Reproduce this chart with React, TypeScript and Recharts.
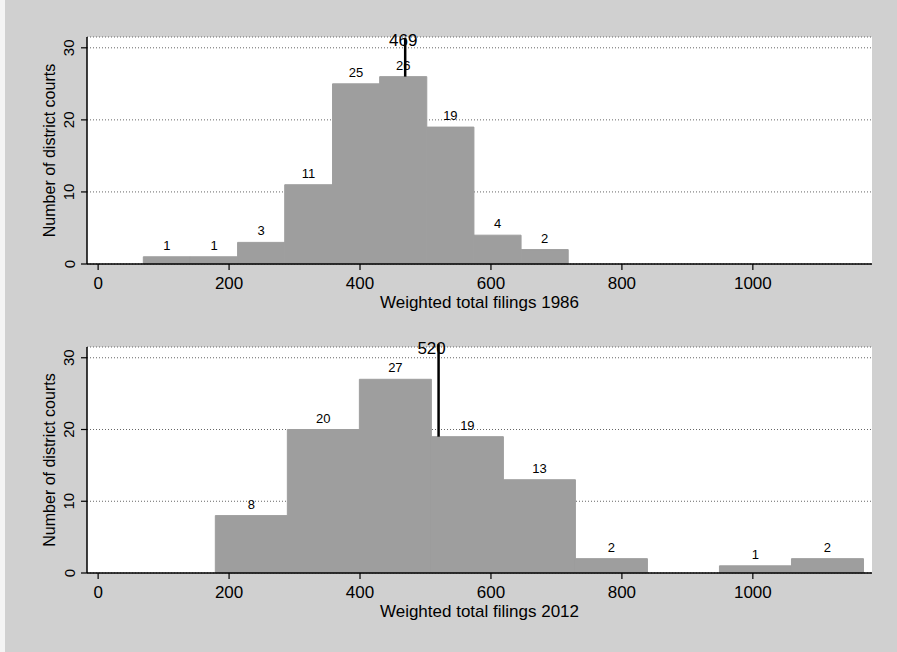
import React from 'react';
import {
  ComposedChart,
  XAxis,
  YAxis,
  CartesianGrid,
  ReferenceArea,
  ReferenceLine,
  ReferenceDot,
  Scatter,
} from 'recharts';

// ---- data ----
const binEdges1986 = [69, 141, 213, 285, 358, 430, 502, 574, 646, 718];
const counts1986 = [1, 1, 3, 11, 25, 26, 19, 4, 2];
const mean1986 = 469;

const binEdges2012 = [179, 289, 399, 509, 619, 729, 839, 949, 1059, 1169];
const counts2012 = [8, 20, 27, 19, 13, 2, 0, 1, 2];
const mean2012 = 520;

const xTicks = [0, 200, 400, 600, 800, 1000];
const yTicks = [0, 10, 20, 30];
const xDomain = [-17, 1182];
const yDomain = [0, 31.5];

const FONT = '"Liberation Sans", Arial, Helvetica, sans-serif';
const BG = '#d0d0d0';
const BAR = '#9e9e9e';

const YTick = (props: any) => {
  const { y, payload } = props;
  const cx = 69;
  return (
    <text
      x={cx}
      y={y}
      transform={`rotate(-90 ${cx} ${y})`}
      textAnchor="middle"
      dominantBaseline="central"
      fontSize={15}
      fontFamily={FONT}
      fill="#000"
    >
      {payload.value}
    </text>
  );
};

type PanelProps = {
  edges: number[];
  counts: number[];
  mean: number;
  title: string;
  top: number;
  marginTop: number;
  marginBottom: number;
  labelY: number;
  lineTop: number;
  labelDx: number;
};

const Panel = ({ edges, counts, mean, title, top, marginTop, marginBottom, labelY, lineTop, labelDx }: PanelProps) => {
  const bins = counts.map((c, i) => ({ x0: edges[i], x1: edges[i + 1], count: c, mid: (edges[i] + edges[i + 1]) / 2 }));
  const meanBin = bins.find((b) => mean >= b.x0 && mean < b.x1);
  const meanCount = meanBin ? meanBin.count : 0;
  return (
    <div style={{ position: 'absolute', left: 0, top, width: 897, height: 326 }}>
      <ComposedChart
        width={897}
        height={326}
        data={bins}
        margin={{ top: marginTop, right: 25, bottom: marginBottom, left: 42 }}
        style={{ fontFamily: FONT }}
      >
        <CartesianGrid
          horizontal
          vertical={false}
          fill="#ffffff"
          stroke="#666"
          strokeDasharray="1 2"
        />
        <Scatter data={bins} dataKey="count" shape={() => null} isAnimationActive={false} legendType="none" />
        {bins
          .filter((b) => b.count > 0)
          .map((b, i) => (
            <ReferenceArea
              key={i}
              x1={b.x0}
              x2={b.x1}
              y1={0}
              y2={b.count}
              fill={BAR}
              fillOpacity={1}
              stroke={BAR}
              strokeWidth={1}
              ifOverflow="visible"
              label={{ value: b.count, position: 'top', offset: 7, fontSize: 13, fill: '#000', fontFamily: FONT }}
            />
          ))}
        <XAxis
          type="number"
          dataKey="mid"
          domain={xDomain}
          ticks={xTicks}
          allowDataOverflow
          height={50}
          tickSize={6}
          tickMargin={7}
          axisLine={{ stroke: '#000', strokeWidth: 1.5 }}
          tickLine={{ stroke: '#000', strokeWidth: 1.2 }}
          tick={{ fontSize: 17, fill: '#000', fontFamily: FONT }}
          label={{ value: title, position: 'insideTop', offset: 32, fontSize: 17, fill: '#000', fontFamily: FONT }}
        />
        <YAxis
          type="number"
          dataKey="count"
          domain={yDomain}
          ticks={yTicks}
          allowDataOverflow
          width={45}
          tickSize={6}
          axisLine={{ stroke: '#000', strokeWidth: 1.5 }}
          tickLine={{ stroke: '#000', strokeWidth: 1.2 }}
          tick={<YTick />}
          label={{
            value: 'Number of district courts',
            angle: -90,
            position: 'insideLeft',
            offset: 7,
            fontSize: 16,
            fill: '#000',
            fontFamily: FONT,
            style: { textAnchor: 'middle' },
          }}
        />
        <ReferenceLine
          segment={[
            { x: mean, y: meanCount },
            { x: mean, y: lineTop },
          ]}
          stroke="#000"
          strokeWidth={2.5}
          ifOverflow="visible"
        />
        <ReferenceDot
          x={mean}
          y={labelY}
          r={0.01}
          fill="none"
          stroke="none"
          ifOverflow="visible"
          label={{ value: String(mean), position: 'center', dx: labelDx, fontSize: 17, fill: '#000', fontFamily: FONT }}
        />
      </ComposedChart>
    </div>
  );
};

export default function App() {
  return (
    <div
      style={{
        position: 'absolute',
        left: 0,
        top: 0,
        width: 897,
        height: 652,
        background: BG,
        borderLeft: '5px solid #f4f4f4',
        boxSizing: 'border-box',
        overflow: 'hidden',
      }}
    >
      <div style={{ position: 'absolute', left: -5, top: 0, width: 897, height: 652 }}>
        <Panel
          edges={binEdges1986}
          counts={counts1986}
          mean={mean1986}
          title="Weighted total filings 1986"
          top={0}
          marginTop={37}
          marginBottom={12}
          labelY={31.1}
          lineTop={31.4}
          labelDx={-2}
        />
        <Panel
          edges={binEdges2012}
          counts={counts2012}
          mean={mean2012}
          title="Weighted total filings 2012"
          top={326}
          marginTop={21}
          marginBottom={29}
          labelY={31.4}
          lineTop={31.9}
          labelDx={-7}
        />
      </div>
    </div>
  );
}
